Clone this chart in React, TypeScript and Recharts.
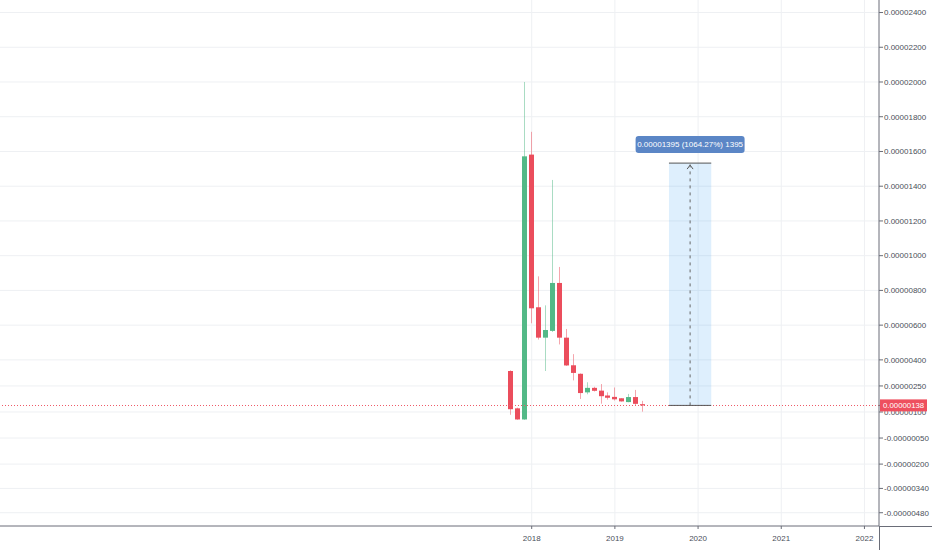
import React from "react";
import { ComposedChart, Bar, XAxis, YAxis, CartesianGrid, ReferenceLine, ReferenceArea } from "recharts";

// monthly candles, months counted from Jan 2018, prices in satoshi (1e-8)
const months = [-3, -2, -1, 0, 1, 2, 3, 4, 5, 6, 7, 8, 9, 10, 11, 12, 13, 14, 15, 16];
const opens = [336, 121, 57, 1582, 703, 528, 567, 843, 528, 369, 320, 213, 239, 223, 195, 187, 179, 157, 186, 145];
const highs = [340, 125, 2000, 1713, 881, 714, 1436, 935, 578, 433, 322, 271, 245, 261, 213, 241, 180, 204, 227, 164];
const lows = [84, 55, 55, 611, 517, 336, 561, 489, 365, 282, 175, 202, 218, 148, 171, 166, 160, 156, 138, 102];
const closes = [116, 57, 1572, 697, 528, 572, 843, 528, 368, 325, 209, 239, 222, 191, 182, 173, 161, 186, 147, 138];

const yearTicks = [0, 12, 24, 36, 48];
const yearLabels = ["2018", "2019", "2020", "2021", "2022"];
const priceTicks = [2400, 2200, 2000, 1800, 1600, 1400, 1200, 1000, 800, 600, 400, 250, 100, -50, -200, -340, -480];
const lastPrice = 138;

const measureFrom = 19.8;
const measureTo = 25.9;
const measureLow = 138;
const measureHigh = 1533;
const measureText = "0.00001395 (1064.27%) 1395";

const data = months.map((m, i) => ({
  m,
  range: [lows[i], highs[i]],
  open: opens[i],
  high: highs[i],
  low: lows[i],
  close: closes[i],
}));

const FONT = "'Liberation Sans', Arial, sans-serif";
const UP = "#53b987";
const DOWN = "#eb4d5c";
const AXIS = "#6a6d78";

const fmt = (v: number) => (v * 1e-8).toFixed(8);

const Candle = (props: any) => {
  const { x, y, width, height, payload } = props;
  const top = Math.min(y, y + height);
  const h = Math.abs(height);
  const { open, close, high, low } = payload;
  const toY = (v: number) => (high === low ? top : top + ((high - v) / (high - low)) * h);
  const up = close >= open;
  const bx = Math.round(x);
  const cx = bx + Math.round(width) / 2;
  const b1 = toY(Math.max(open, close));
  const b2 = toY(Math.min(open, close));
  return (
    <g>
      <line x1={cx} x2={cx} y1={top} y2={top + h} stroke={up ? "rgba(83,185,135,0.5)" : "rgba(235,77,92,0.5)"} strokeWidth={1} />
      <rect x={bx} y={b1} width={Math.round(width)} height={Math.max(1, b2 - b1)} fill={up ? UP : DOWN} />
    </g>
  );
};

const PriceTick = (props: any) => {
  const { x, y, payload } = props;
  const v = payload.value;
  if (v === lastPrice) {
    return (
      <g>
        <rect x={880} y={y - 6} width={47} height={12} fill="#ee4f5e" />
        <text x={x - 1} y={y} dy="0.35em" fill="#fff" fontSize={7.8} fontFamily={FONT}>
          {fmt(v)}
        </text>
      </g>
    );
  }
  return (
    <text x={x} y={y} dy="0.35em" fill="#4a4f5a" fontSize={8} fontFamily={FONT}>
      {fmt(v)}
    </text>
  );
};

const PriceLine = (props: any) => {
  const { x1, x2, y1 } = props;
  const yy = Math.round(y1) + 0.5;
  return <line x1={x1} x2={x2} y1={yy} y2={yy} stroke="#ef5a68" strokeWidth={1} strokeDasharray="1 2" />;
};

const MeasureLabel = (props: any) => {
  const { viewBox } = props;
  if (!viewBox) return null;
  const cx = viewBox.x + viewBox.width / 2;
  const top = viewBox.y;
  const w = 109;
  const h = 17;
  return (
    <g>
      <rect x={cx - w / 2} y={top - 27} width={w} height={h} rx={3} fill="#5b86c6" />
      <text x={cx} y={top - 27 + h / 2} dy="0.35em" textAnchor="middle" fill="#fff" fontSize={8} fontFamily={FONT}>
        {measureText}
      </text>
      <path d={`M${cx - 3},${top + 6} L${cx},${top + 2} L${cx + 3},${top + 6}`} stroke="#555" fill="none" strokeWidth={1} />
    </g>
  );
};

export default function App() {
  return (
    <div style={{ position: "relative", width: 932, height: 550, background: "#fff" }}>
      <style>{"body{margin:0}"}</style>
      <ComposedChart width={932} height={550} data={data} margin={{ top: 0, right: 0, bottom: 0, left: 0 }}>
        <CartesianGrid stroke="#eef0f3" horizontalValues={priceTicks} verticalValues={yearTicks} />
        <XAxis
          dataKey="m"
          type="number"
          domain={[-76.7, 50.1]}
          allowDataOverflow
          ticks={yearTicks}
          interval={0}
          tickFormatter={(v: number) => yearLabels[yearTicks.indexOf(v)]}
          height={24}
          tickSize={3}
          tickMargin={6}
          stroke={AXIS}
          tick={{ fill: "#4a4f5a", fontSize: 8, fontFamily: FONT }}
        />
        <YAxis
          orientation="right"
          type="number"
          domain={[-556.4, 2472.1]}
          allowDataOverflow
          ticks={[...priceTicks, lastPrice]}
          interval={0}
          width={53}
          tickSize={4}
          tickMargin={1}
          stroke={AXIS}
          tick={<PriceTick />}
        />
        <ReferenceArea
          x1={measureFrom}
          x2={measureTo}
          y1={measureLow}
          y2={measureHigh}
          fill="#2196f3"
          fillOpacity={0.15}
          stroke="none"
          label={<MeasureLabel />}
        />
        <ReferenceLine y={lastPrice} shape={<PriceLine />} />
        <ReferenceLine
          segment={[
            { x: (measureFrom + measureTo) / 2, y: measureLow },
            { x: (measureFrom + measureTo) / 2, y: measureHigh },
          ]}
          stroke="#666"
          strokeDasharray="3 4"
        />
        <ReferenceLine segment={[{ x: measureFrom, y: measureHigh }, { x: measureTo, y: measureHigh }]} stroke="#555" />
        <ReferenceLine segment={[{ x: measureFrom, y: measureLow }, { x: measureTo, y: measureLow }]} stroke="#555" />
        <Bar dataKey="range" barSize={5} shape={<Candle />} isAnimationActive={false} />
      </ComposedChart>
      <div style={{ position: "absolute", left: 879, top: 526, width: 53, height: 1, background: AXIS }} />
      <div style={{ position: "absolute", left: 879, top: 526, width: 1, height: 24, background: AXIS }} />
    </div>
  );
}
